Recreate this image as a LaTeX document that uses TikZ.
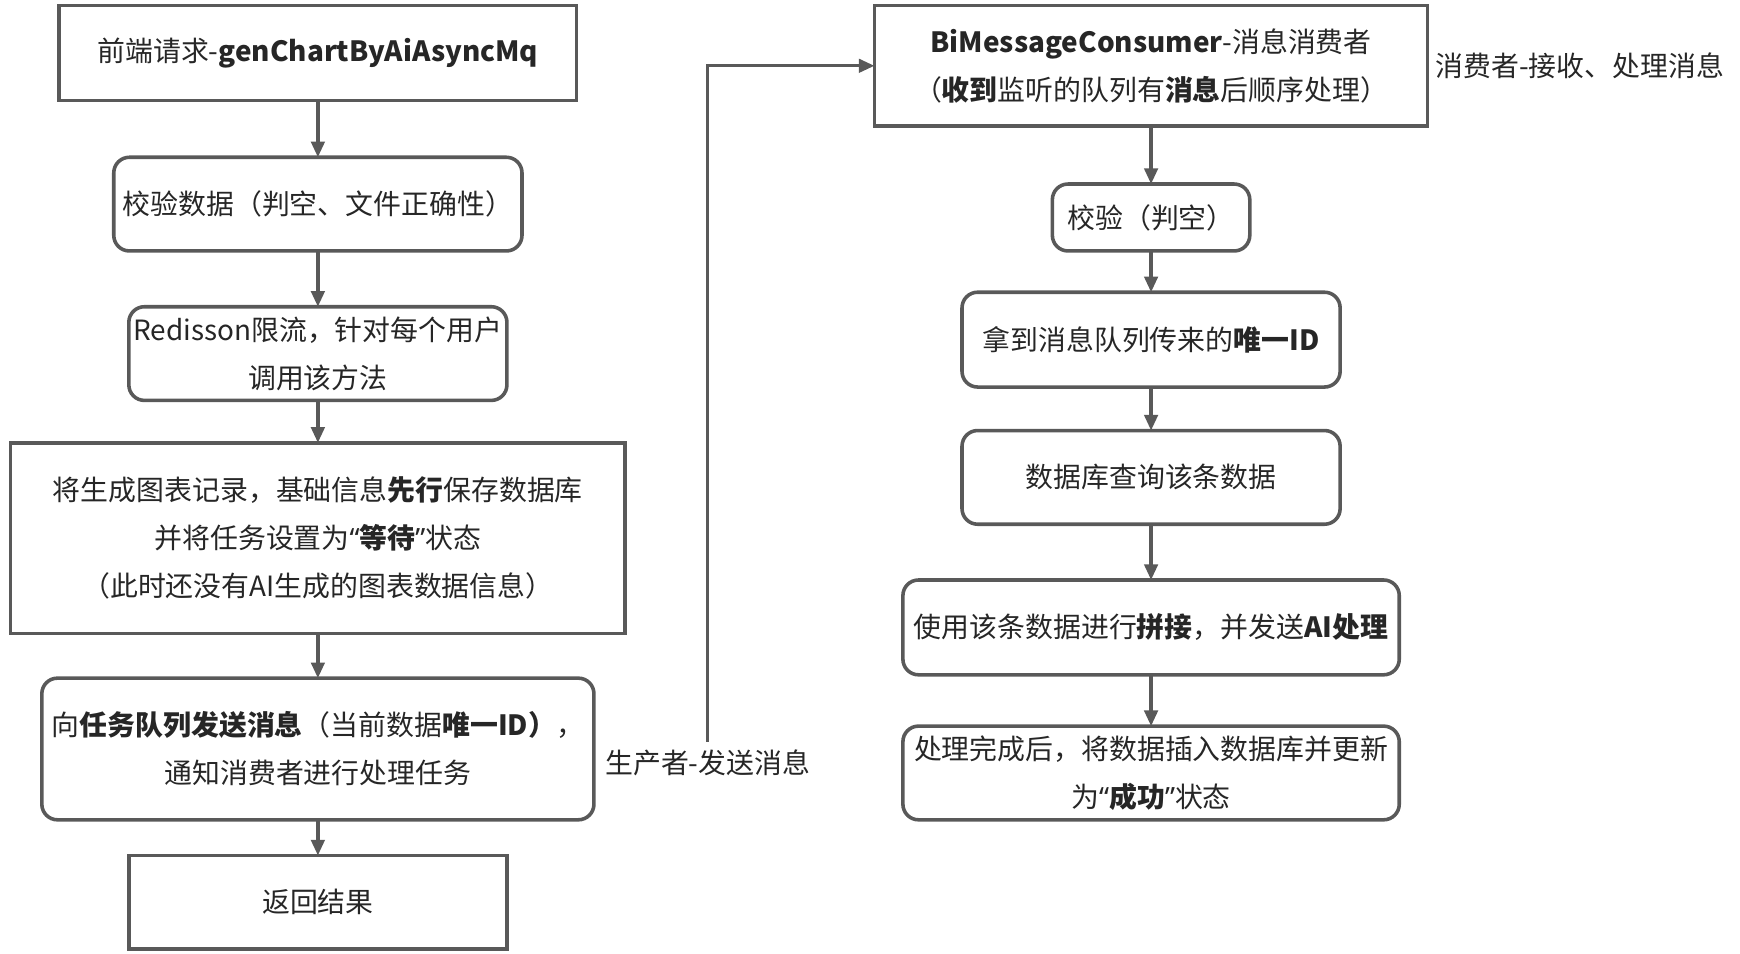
\documentclass[tikz,border=0pt]{standalone}
\usepackage{fontspec}
\setmainfont{Noto Sans CJK SC}
\newfontfamily\quotefont{Noto Sans}
\usepackage{xcolor}
\usetikzlibrary{arrows.meta, positioning}
\definecolor{linegray}{RGB}{89,89,89}
\definecolor{textgray}{RGB}{38,38,38}
\newcommand{\qopen}{{\quotefont\textquotedblleft}}
\newcommand{\qclose}{{\quotefont\textquotedblright}}

\begin{document}
\begin{tikzpicture}[
x=0.5pt, y=-0.5pt,
font=\fontsize{12.5}{21.5}\selectfont, text=textgray,
box/.style = {draw=linegray, line width=1.6pt, align=center,
              inner sep=0pt, outer sep=0pt},
rbox/.style = {box, rounded corners=7pt},
every edge/.style = {draw=linegray, line width=1.5pt,
                     -{Triangle[length=7pt, width=6pt]}},
link/.style = {draw=linegray, line width=1.5pt,
               -{Triangle[length=7pt, width=6pt]}},
                    ]
\useasboundingbox (0,0) rectangle (1560,855);
% producer side
\node (a1) [box, minimum width=232pt, minimum height=42.5pt] at (285,47.5)
      {前端请求-\textbf{genChartByAiAsyncMq}};
\node (a2) [rbox, minimum width=183pt, minimum height=42pt, below=25.5pt of a1]
      {校验数据（判空、文件正确性）};
\node (a3) [rbox, minimum width=169.5pt, minimum height=42pt, below=25pt of a2]
      {Redisson限流，针对每个用户\\调用该方法};
\node (a4) [box, minimum width=275.5pt, minimum height=85.5pt, below=19pt of a3]
      {将生成图表记录，基础信息\textbf{先行}保存数据库\\
       并将任务设置为\qopen\textbf{等待}\qclose 状态\\
       （此时还没有AI生成的图表数据信息）};
\node (a5) [rbox, minimum width=247.5pt, minimum height=63.5pt, below=20pt of a4]
      {向\textbf{任务队列发送消息}（当前数据\textbf{唯一ID）}，\\通知消费者进行处理任务};
\node (a6) [box, minimum width=169.5pt, minimum height=42pt, below=16pt of a5]
      {返回结果};
% consumer side
\node (b1) [box, minimum width=248pt, minimum height=54pt] at (1032,59)
      {\textbf{BiMessageConsumer}-消息消费者\\
       （\textbf{收到}监听的队列有\textbf{消息}后顺序处理）};
\node (b2) [rbox, minimum width=88.5pt, minimum height=30pt, below=26pt of b1]
      {校验（判空）};
\node (b3) [rbox, minimum width=169.5pt, minimum height=42.5pt, below=18.5pt of b2]
      {拿到消息队列传来的\textbf{唯一ID}};
\node (b4) [rbox, minimum width=169.5pt, minimum height=42pt, below=19.5pt of b3]
      {数据库查询该条数据};
\node (b5) [rbox, minimum width=222.5pt, minimum height=42.5pt, below=25pt of b4]
      {使用该条数据进行\textbf{拼接}，并发送\textbf{AI处理}};
\node (b6) [rbox, minimum width=222.5pt, minimum height=42pt, below=23pt of b5]
      {处理完成后，将数据插入数据库并更新\\为\qopen\textbf{成功}\qclose 状态};
% labels
\node (prod) at (634.5,684) {生产者-发送消息};
\node (cons) [right=0pt of b1] {消费者-接收、处理消息};
\draw   (a1) edge (a2)
        (a2) edge (a3)
        (a3) edge (a4)
        (a4) edge (a5)
        (a5) edge (a6)
        (b1) edge (b2)
        (b2) edge (b3)
        (b3) edge (b4)
        (b4) edge (b5)
        (b5) edge (b6);
\draw [link] (prod.north) |- (b1.west);
\end{tikzpicture}
\end{document}
